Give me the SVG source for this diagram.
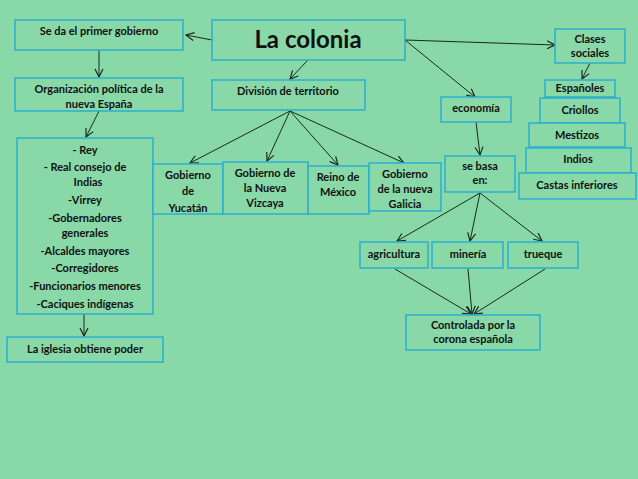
<svg xmlns="http://www.w3.org/2000/svg" width="638" height="479" viewBox="0 0 638 479">
<defs><marker id="a" markerWidth="10" markerHeight="10" refX="9" refY="5" orient="auto" markerUnits="userSpaceOnUse"><path d="M1,1 L9,5 L1,9" fill="none" stroke="#1a2a20" stroke-width="1.2"/></marker></defs>
<style>
rect{fill:#88d8a8;stroke:#2aaed0;stroke-width:1.5}
text{font-family:"Lato","Open Sans",sans-serif;font-weight:bold;font-size:11px;fill:#111;text-anchor:middle}
#conn line{stroke:#1a2a20;stroke-width:1;marker-end:url(#a)}
</style>
<rect x="0" y="0" width="638" height="479" style="stroke:none"/>
<g id="conn">
<line x1="212" y1="40" x2="186" y2="35"/>
<line x1="99" y1="50" x2="99" y2="77"/>
<line x1="99" y1="111" x2="86" y2="137"/>
<line x1="308" y1="60" x2="290" y2="79"/>
<line x1="290" y1="111" x2="190" y2="163"/>
<line x1="290" y1="111" x2="267" y2="161"/>
<line x1="290" y1="111" x2="338" y2="165"/>
<line x1="290" y1="111" x2="404" y2="163"/>
<line x1="405" y1="40" x2="555" y2="45"/>
<line x1="405" y1="40" x2="475" y2="97"/>
<line x1="476" y1="122" x2="480" y2="155"/>
<line x1="590" y1="63" x2="582" y2="79"/>
<line x1="480" y1="193" x2="397" y2="241"/>
<line x1="480" y1="193" x2="470" y2="241"/>
<line x1="480" y1="193" x2="542" y2="241"/>
<line x1="395" y1="269" x2="471" y2="314"/>
<line x1="468" y1="269" x2="472" y2="314"/>
<line x1="545" y1="269" x2="474" y2="314"/>
<line x1="84" y1="314" x2="84" y2="336"/>
</g>
<g id="colonia"><rect x="212" y="20" width="193" height="40"/><text x="308" y="48" style="font-size:24px">La colonia</text></g>
<g id="sedael"><rect x="15" y="20" width="168" height="30"/><text x="99" y="35">Se da el primer gobierno</text></g>
<g id="org"><rect x="15" y="78" width="168" height="33"/><text x="99" y="93">Organización política de la</text><text x="99" y="108">nueva España</text></g>
<g id="lista"><rect x="17" y="138" width="136" height="176"/>
<text x="85" y="154">-   Rey</text><text x="85" y="171">-   Real consejo de</text><text x="88" y="186">Indias</text><text x="85" y="204">-Virrey</text><text x="85" y="222">-Gobernadores</text><text x="85" y="237">generales</text><text x="85" y="255">-Alcaldes mayores</text><text x="85" y="272">-Corregidores</text><text x="85" y="290">-Funcionarios menores</text><text x="85" y="308">-Caciques indígenas</text></g>
<g id="iglesia"><rect x="7" y="337" width="156" height="25"/><text x="85" y="353">La iglesia obtiene poder</text></g>
<g id="division"><rect x="212" y="80" width="153" height="30"/><text x="288" y="95">División de territorio</text></g>
<g id="yucatan"><rect x="153" y="164" width="70" height="50"/><text x="188" y="179">Gobierno</text><text x="188" y="195">de</text><text x="188" y="212">Yucatán</text></g>
<g id="vizcaya"><rect x="223" y="162" width="85" height="52"/><text x="265" y="177">Gobierno de</text><text x="265" y="192">la Nueva</text><text x="265" y="207">Vizcaya</text></g>
<g id="mexico"><rect x="308" y="166" width="61" height="48"/><text x="338" y="181">Reino de</text><text x="338" y="196">México</text></g>
<g id="galicia"><rect x="369" y="163" width="72" height="48"/><text x="405" y="178">Gobierno</text><text x="405" y="193">de la nueva</text><text x="405" y="208">Galicia</text></g>
<g id="economia"><rect x="441" y="97" width="70" height="25"/><text x="476" y="112">economía</text></g>
<g id="sebasa"><rect x="445" y="156" width="70" height="36"/><text x="480" y="170">se basa</text><text x="480" y="184">en:</text></g>
<g id="agri"><rect x="360" y="242" width="68" height="26"/><text x="394" y="258">agricultura</text></g>
<g id="mineria"><rect x="432" y="242" width="71" height="26"/><text x="468" y="258">minería</text></g>
<g id="trueque"><rect x="508" y="242" width="70" height="26"/><text x="543" y="258">trueque</text></g>
<g id="controlada"><rect x="406" y="315" width="134" height="35"/><text x="473" y="329">Controlada por la</text><text x="473" y="343">corona española</text></g>
<g id="clases"><rect x="555" y="29" width="70" height="34"/><text x="590" y="43">Clases</text><text x="590" y="57">sociales</text></g>
<g id="espanoles"><rect x="545" y="80" width="70" height="17"/><text x="580" y="92">Españoles</text></g>
<g id="criollos"><rect x="540" y="98" width="80" height="25"/><text x="580" y="114">Criollos</text></g>
<g id="mestizos"><rect x="529" y="123" width="96" height="24"/><text x="577" y="139">Mestizos</text></g>
<g id="indios"><rect x="526" y="148" width="105" height="25"/><text x="578" y="163">Indios</text></g>
<g id="castas"><rect x="519" y="173" width="117" height="26"/><text x="577" y="189">Castas inferiores</text></g>
</svg>
